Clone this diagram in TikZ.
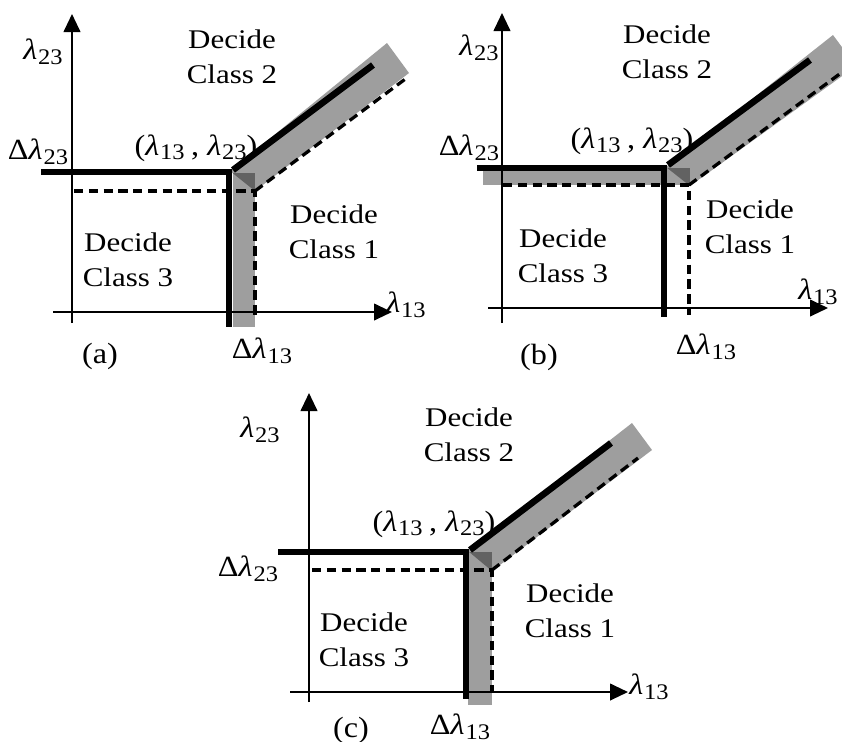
\documentclass[tikz,border=0pt]{standalone}
\usepackage{fontspec}
\setmainfont{Liberation Serif}
\usetikzlibrary{arrows.meta}

\newcommand{\lam}[1]{\textit{λ}\kern0.03em\raisebox{-0.35ex}{\fontsize{9.5}{10}\selectfont #1}}
\newcommand{\ptlabel}{(\lam{13}\kern0.2em,\kern0.25em\lam{23})}

\tikzset{
	axisline/.style={line width=0.85pt, -{Triangle[length=2.7mm, width=2.5mm]}},
	bound/.style={line width=2.8pt},
	dbound/.style={line width=1.4pt, dash pattern=on 4pt off 2.3pt},
	band/.style={fill=black, fill opacity=0.38},
	region/.style={align=center, xscale=1.15, font=\fontsize{11.5}{15}\selectfont},
	lbl/.style={xscale=1.1, font=\fontsize{12.5}{14}\selectfont, inner sep=0pt}
}

\begin{document}
\begin{tikzpicture}[x=0.15mm, y=-0.15mm]
	\useasboundingbox (0,0) rectangle (842,741);
	
	% (a)
	\draw[axisline] (72,323) -- (72,14);
	\draw[axisline] (53,312) -- (392,312);
	\fill[band] (233,173) rectangle (255,327);
	\fill[band] (230,171) -- (387,43) -- (409,73) -- (255,191) -- cycle;
	\draw[bound] (41,172) -- (229,172) -- (229,327);
	\draw[bound] (233,170) -- (373,65);
	\draw[dbound] (74,191) -- (255,191) -- (255,318);
	\draw[dbound] (255,191) -- (408,77);
	
	\node[lbl] (l23a) at (43,52) {\lam{23}};
	\node[lbl] (l13a) at (406,305) {\lam{13}};
	\node[lbl] (d23a) at (38,152) {Δ\lam{23}};
	\node[lbl] (d13a) at (262,351) {Δ\lam{13}};
	\node[lbl] (pta) at (196,148) {\ptlabel};
	\node[region] (c2a) at (232,57) {Decide\\Class 2};
	\node[region] (c3a) at (128,260) {Decide\\Class 3};
	\node[region] (c1a) at (334,232) {Decide\\Class 1};
	\node[lbl] (capa) at (100,356) {(a)};
	
	% (b)
	\draw[axisline] (502,323) -- (502,13);
	\draw[axisline] (488,308) -- (828,308);
	\fill[band] (483,168) rectangle (690,185);
	\fill[band] (666,167) -- (833,35) -- (856,66) -- (690,186) -- cycle;
	\draw[bound] (477,168) -- (664,168) -- (664,317);
	\draw[bound] (668,165) -- (810,60);
	\draw[dbound] (503,185) -- (689,185) -- (689,315);
	\draw[dbound] (689,185) -- (845,70);
	
	\node[lbl] (l23b) at (479,48) {\lam{23}};
	\node[lbl] (l13b) at (818,292) {\lam{13}};
	\node[lbl] (d23b) at (469,148) {Δ\lam{23}};
	\node[lbl] (d13b) at (706,347) {Δ\lam{13}};
	\node[lbl] (ptb) at (632,141) {\ptlabel};
	\node[region] (c2b) at (667,52) {Decide\\Class 2};
	\node[region] (c3b) at (563,256) {Decide\\Class 3};
	\node[region] (c1b) at (750,227) {Decide\\Class 1};
	\node[lbl] (capb) at (539,357) {(b)};
	
	% (c)
	\draw[axisline] (309,702) -- (309,393);
	\draw[axisline] (290,692) -- (628,692);
	\fill[band] (468,552) rectangle (492,705);
	\fill[band] (468,551) -- (632,423) -- (652,450) -- (492,571) -- cycle;
	\draw[bound] (278,552) -- (466,552) -- (466,699);
	\draw[bound] (470,550) -- (611,443);
	\draw[dbound] (312,570) -- (492,570) -- (492,693);
	\draw[dbound] (492,570) -- (638,458);
	
	\node[lbl] (l23c) at (260,430) {\lam{23}};
	\node[lbl] (l13c) at (649,687) {\lam{13}};
	\node[lbl] (d23c) at (248,569) {Δ\lam{23}};
	\node[lbl] (d13c) at (460,727) {Δ\lam{13}};
	\node[lbl] (ptc) at (434,524) {\ptlabel};
	\node[region] (c2c) at (469,435) {Decide\\Class 2};
	\node[region] (c3c) at (364,640) {Decide\\Class 3};
	\node[region] (c1c) at (570,611) {Decide\\Class 1};
	\node[lbl] (capc) at (351,730) {(c)};
\end{tikzpicture}
\end{document}
